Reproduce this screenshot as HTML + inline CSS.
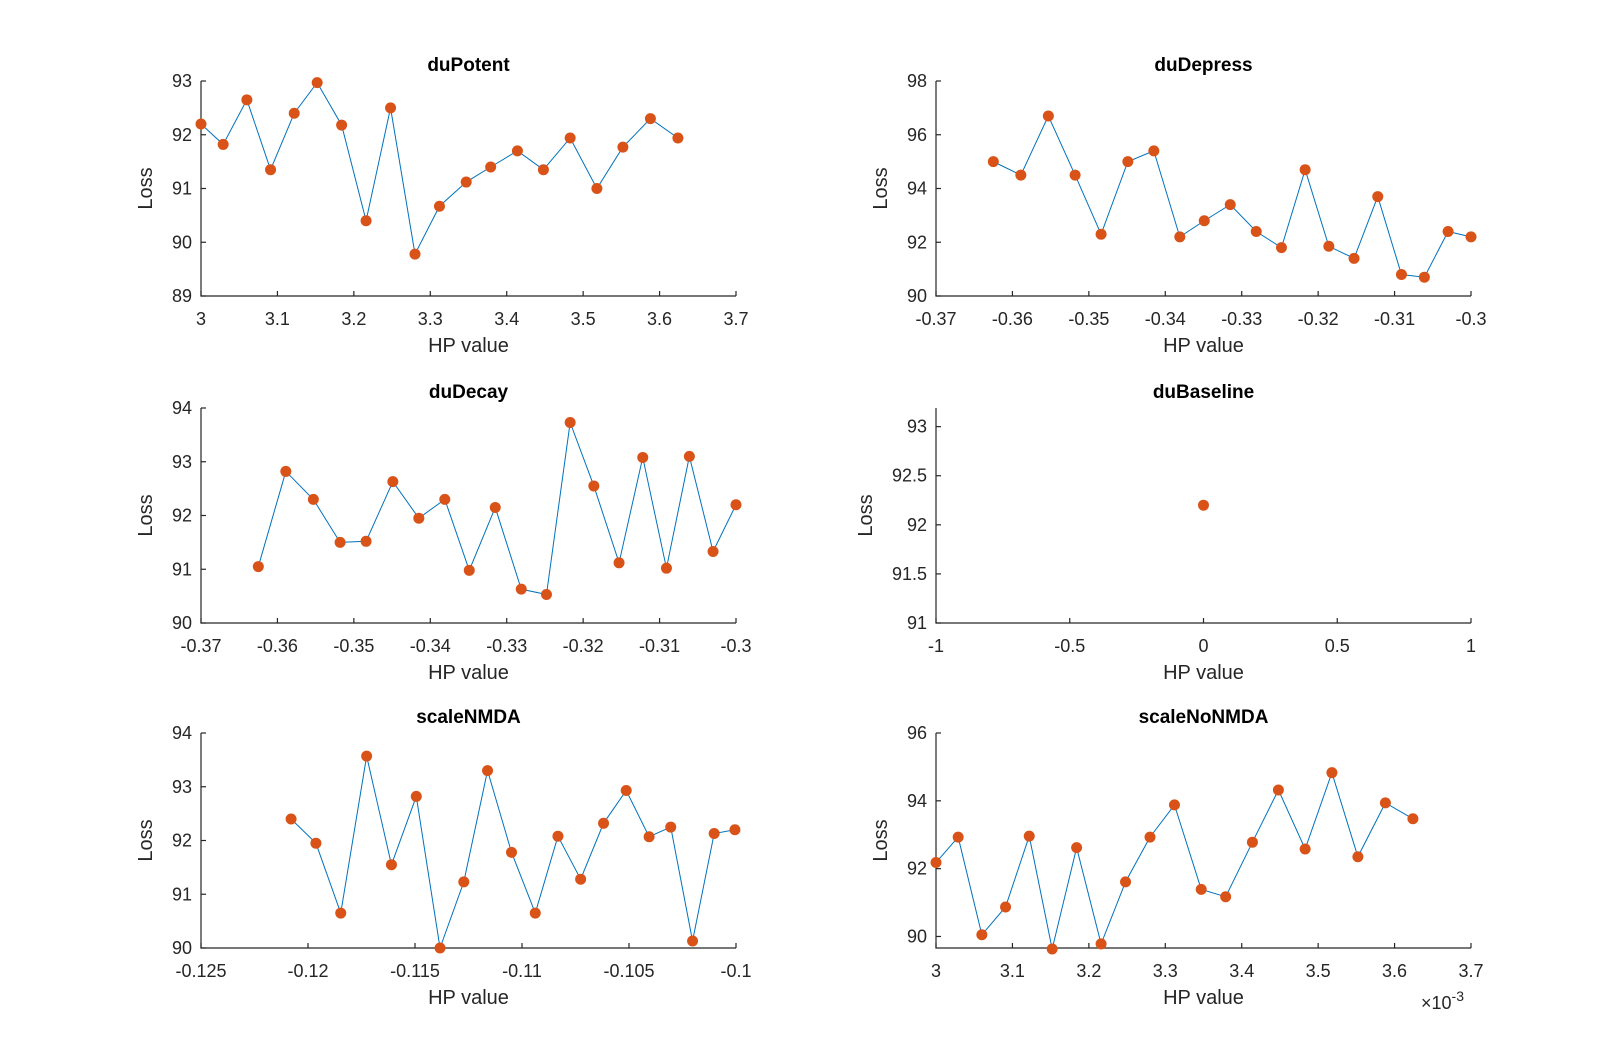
<!DOCTYPE html>
<html><head><meta charset="utf-8"><style>
html,body{margin:0;padding:0;background:#fff;}
svg{display:block;font-family:"Liberation Sans",Arial,sans-serif;}
</style></head>
<body>
<svg id="fig" width="1624" height="1064" viewBox="0 0 1624 1064" xmlns="http://www.w3.org/2000/svg"></svg>
<script>
// ---- data ----
const potentX = [3.0,3.029,3.060,3.091,3.122,3.152,3.184,3.216,3.248,3.280,3.312,3.347,3.379,3.414,3.448,3.483,3.518,3.552,3.588,3.624];
const potentY = [92.2,91.82,92.65,91.35,92.4,92.97,92.18,90.4,92.5,89.78,90.67,91.12,91.4,91.7,91.35,91.94,91.0,91.77,92.3,91.94];
const depressX = [-0.3625,-0.3589,-0.3553,-0.3518,-0.3484,-0.3449,-0.3415,-0.3381,-0.3349,-0.3315,-0.3281,-0.3248,-0.3217,-0.3186,-0.3153,-0.3122,-0.3091,-0.3061,-0.3030,-0.300];
const depressY = [95.0,94.5,96.7,94.5,92.3,95.0,95.4,92.2,92.8,93.4,92.4,91.8,94.7,91.85,91.4,93.7,90.8,90.7,92.4,92.2];
const decayX = [-0.3625,-0.3589,-0.3553,-0.3518,-0.3484,-0.3449,-0.3415,-0.3381,-0.3349,-0.3315,-0.3281,-0.3248,-0.3217,-0.3186,-0.3153,-0.3122,-0.3091,-0.3061,-0.3030,-0.300];
const decayY = [91.05,92.82,92.3,91.5,91.52,92.63,91.95,92.3,90.98,92.15,90.63,90.53,93.73,92.55,91.12,93.08,91.02,93.1,91.33,92.2];
const baselineX = [0];
const baselineY = [92.2];
const nmdaX = [-0.12079,-0.11963,-0.11847,-0.11726,-0.11610,-0.11494,-0.11383,-0.11272,-0.11161,-0.11049,-0.10938,-0.10832,-0.10726,-0.10619,-0.10513,-0.10406,-0.10305,-0.10203,-0.10102,-0.10005];
const nmdaY = [92.4,91.95,90.65,93.57,91.55,92.82,90.0,91.23,93.3,91.78,90.65,92.08,91.28,92.32,92.93,92.07,92.25,90.13,92.13,92.2];
const noNmdaX = [3.0,3.029,3.060,3.091,3.122,3.152,3.184,3.216,3.248,3.280,3.312,3.347,3.379,3.414,3.448,3.483,3.518,3.552,3.588,3.624];
const noNmdaY = [92.18,92.93,90.05,90.87,92.96,89.63,92.62,89.78,91.61,92.93,93.88,91.39,91.17,92.78,94.32,92.58,94.83,92.35,93.94,93.47];

const potentXT = ["3","3.1","3.2","3.3","3.4","3.5","3.6","3.7"];
const potentYT = ["89","90","91","92","93"];
const depressXT = ["-0.37","-0.36","-0.35","-0.34","-0.33","-0.32","-0.31","-0.3"];
const depressYT = ["90","92","94","96","98"];
const decayXT = ["-0.37","-0.36","-0.35","-0.34","-0.33","-0.32","-0.31","-0.3"];
const decayYT = ["90","91","92","93","94"];
const baselineXT = ["-1","-0.5","0","0.5","1"];
const baselineYT = ["91","91.5","92","92.5","93"];
const nmdaXT = ["-0.125","-0.12","-0.115","-0.11","-0.105","-0.1"];
const nmdaYT = ["90","91","92","93","94"];
const noNmdaXT = ["3","3.1","3.2","3.3","3.4","3.5","3.6","3.7"];
const noNmdaYT = ["90","92","94","96"];

const NS = "http://www.w3.org/2000/svg";
const svg = document.getElementById("fig");
function mk(tag, attrs, parent){ const e=document.createElementNS(NS,tag); for(const k in attrs) e.setAttribute(k,attrs[k]); (parent||svg).appendChild(e); return e; }

function panel(o){
  const g = mk("g",{});
  
  
  const L=o.l, R=o.l+o.w, T=o.t, B=o.t+o.h;
  const sx = v => L + (v-o.xmin)/(o.xmax-o.xmin)*(R-L);
  const sy = v => B - (v-o.ymin)/(o.ymax-o.ymin)*(B-T);
  const ax = mk("path",{d:`M${L},${T} L${L},${B} L${R},${B}`,fill:"none",stroke:"#262626","stroke-width":1.2},g);
  
  
  o.xt.forEach(s=>{
    const v=parseFloat(s); const x=sx(v);
    mk("line",{x1:x,y1:B,x2:x,y2:B-5,stroke:"#262626","stroke-width":1.2},g);
    const t=mk("text",{x:x,y:B+29,"text-anchor":"middle","font-size":18,fill:"#262626"},g);
    t.textContent=s;
    
    
  });
  o.yt.forEach(s=>{
    const v=parseFloat(s); const y=sy(v);
    mk("line",{x1:L,y1:y,x2:L+5,y2:y,stroke:"#262626","stroke-width":1.2},g);
    const t=mk("text",{x:L-9,y:y+6,"text-anchor":"end","font-size":18,fill:"#262626"},g);
    t.textContent=s;
    
    
  });
  const pts = o.xs.map((v,i)=>sx(v)+","+sy(o.ys[i])).join(" ");
  if(o.xs.length>1){
    const pl=mk("polyline",{points:pts,fill:"none",stroke:"#0072BD","stroke-width":1},g);
    
    
  }
  o.xs.forEach((v,i)=>{
    const c=mk("circle",{cx:sx(v),cy:sy(o.ys[i]),r:5.5,fill:"#D95319"},g);
    
    
  });
  const ti=mk("text",{x:(L+R)/2,y:T-10,"text-anchor":"middle","font-size":19,"font-weight":"bold",fill:"#000"},g);
  ti.textContent=o.title;
  
  
  const xl=mk("text",{x:(L+R)/2,y:B+56,"text-anchor":"middle","font-size":20,fill:"#262626"},g);
  xl.textContent="HP value";
  
  
  const yx=L-(o.ylOff||49), yy=(T+B)/2;
  const yl=mk("text",{x:yx,y:yy,"text-anchor":"middle","font-size":20,fill:"#262626",transform:`rotate(-90 ${yx} ${yy})`},g);
  yl.textContent="Loss";
  
  
}
const LC=201, RC=936, W=535, H=215;
const R1=81, R2=408, R3=733;
panel({name:"panel-duPotent",title:"duPotent",l:LC,t:R1,w:W,h:H,xmin:3,xmax:3.7,ymin:89,ymax:93,xs:potentX,ys:potentY,xt:potentXT,yt:potentYT});
panel({name:"panel-duDepress",title:"duDepress",l:RC,t:R1,w:W,h:H,xmin:-0.37,xmax:-0.3,ymin:90,ymax:98,xs:depressX,ys:depressY,xt:depressXT,yt:depressYT});
panel({name:"panel-duDecay",title:"duDecay",l:LC,t:R2,w:W,h:H,xmin:-0.37,xmax:-0.3,ymin:90,ymax:94,xs:decayX,ys:decayY,xt:decayXT,yt:decayYT});
panel({name:"panel-duBaseline",title:"duBaseline",l:RC,t:R2,w:W,h:H,xmin:-1,xmax:1,ymin:91,ymax:93.19,xs:baselineX,ys:baselineY,xt:baselineXT,yt:baselineYT,ylOff:64});
panel({name:"panel-scaleNMDA",title:"scaleNMDA",l:LC,t:R3,w:W,h:H,xmin:-0.125,xmax:-0.1,ymin:90,ymax:94,xs:nmdaX,ys:nmdaY,xt:nmdaXT,yt:nmdaYT});
panel({name:"panel-scaleNoNMDA",title:"scaleNoNMDA",l:RC,t:R3,w:W,h:H,xmin:3,xmax:3.7,ymin:89.66,ymax:96,xs:noNmdaX,ys:noNmdaY,xt:noNmdaXT,yt:noNmdaYT});
const ex=mk("text",{x:1421,y:1009,"font-size":18,fill:"#262626"});


ex.innerHTML='×10<tspan dy="-8" font-size="14">-3</tspan>';
</script>
</body></html>
